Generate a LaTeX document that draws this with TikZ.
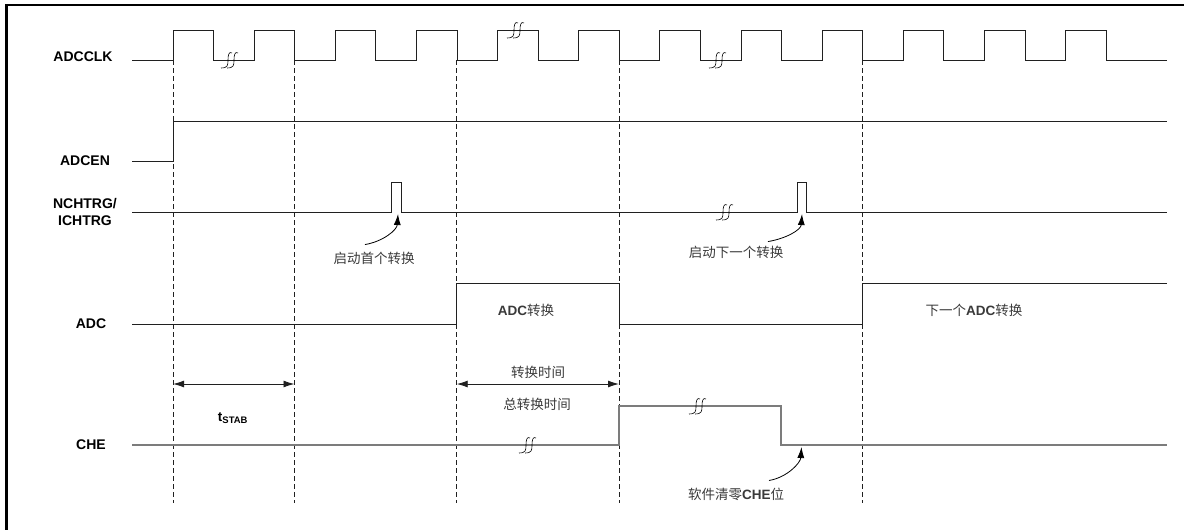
\documentclass[tikz,border=0pt]{standalone}
\usepackage{fontspec}
\setmainfont{Liberation Sans}
\newfontfamily\cjk{Noto Sans CJK SC}
\usepackage{tikz}
\usetikzlibrary{arrows.meta}
\definecolor{sigline}{HTML}{202020}
\definecolor{cheline}{HTML}{7C7C7C}
\definecolor{notetext}{HTML}{3A3A3A}

\tikzset{
  siglabel/.style={font=\fontsize{14}{17}\selectfont\bfseries, align=center, inner sep=1pt},
  note/.style={font=\fontsize{13.5}{16}\selectfont, text=notetext, inner sep=1pt},
  wave/.style={draw=sigline, line width=0.9pt},
  guide/.style={draw=sigline, line width=0.7pt, dash pattern=on 5pt off 3pt},
  span/.style={draw=sigline, line width=0.9pt, {Latex[length=11pt,width=7pt]}-{Latex[length=11pt,width=7pt]}},
  pointer/.style={draw=black, line width=0.8pt, -{Latex[length=11pt,width=7pt]}},
  brk/.pic={
    \foreach \d in {0,6}
      \draw[line width=0.6pt] (\d+3,-7) .. controls (\d,-9) and (\d-1,-5) .. (\d-1,0)
        .. controls (\d-1,5) and (\d-1,8) .. (\d-8,8);
  }
}

\begin{document}
\begin{tikzpicture}[x=1pt, y=-1pt]
  \useasboundingbox (0,0) rectangle (1186,530);

  % frame
  \draw[line width=2.5pt] (6.5,530) -- (6.5,5) -- (1184,5);

  % signal names
  \node[siglabel] (clk) at (83,57) {ADCCLK};
  \node[siglabel] (en) at (85,161) {ADCEN};
  \node[siglabel] (trg) at (85,212) {NCHTRG/\\ICHTRG};
  \node[siglabel] (adc) at (91,324) {ADC};
  \node[siglabel] (che) at (91,445) {CHE};

  % guides
  \foreach \x/\n in {173/t0, 294.5/t1, 456.7/t2, 619/t3, 862/t4} {
    \coordinate (\n) at (\x,60);
    \draw[guide] (\n) -- (\x,503);
  }

  % waveforms
  \draw[wave] (132,60) foreach \k in {0,...,11} {
      -- ({173+81.14*\k},60) -- ({173+81.14*\k},30)
      -- ({213.57+81.14*\k},30) -- ({213.57+81.14*\k},60) } -- (1167,60);
  \draw[wave] (132,161) -- (173,161) -- (173,121) -- (1167,121);
  \draw[wave] (132,212) -- (391,212) -- (391,182) -- (401,182) -- (401,212)
    -- (797,212) -- (797,182) -- (806,182) -- (806,212) -- (1167,212);
  \draw[wave] (132,324) -- (456.7,324) -- (456.7,283) -- (619,283) -- (619,324)
    -- (862,324) -- (862,283) -- (1167,283);
  \draw[wave, draw=cheline, line width=1.4pt] (132,445) -- (619,445) -- (619,406)
    -- (781,406) -- (781,445) -- (1167,445);

  % breaks
  \pic at (229,60) {brk};
  \pic at (515,30) {brk};
  \pic at (717,60) {brk};
  \pic at (724,212) {brk};
  \pic at (527,445) {brk};
  \pic at (697,406) {brk};

  % notes
  \node[note] (first) at (374,258) {\cjk 启动首个转换};
  \node[note] (next) at (736,252) {\cjk 启动下一个转换};
  \node[note] (conv) at (526,310) {\textbf{ADC}{\cjk 转换}};
  \node[note] (nconv) at (974,310) {{\cjk 下一个}\textbf{ADC}{\cjk 转换}};
  \node[note] (ctime) at (538,372) {\cjk 转换时间};
  \node[note] (ttime) at (537,404) {\cjk 总转换时间};
  \node[note, text=black] (stab) at (233,418) {\textbf{t}\textsubscript{\textbf{STAB}}};
  \node[note] (clr) at (736,494) {{\cjk 软件清零}\textbf{CHE}{\cjk 位}};

  % timing spans
  \coordinate (s0) at (173,384);
  \coordinate (s1) at (294.5,384);
  \coordinate (s2) at (456.7,384);
  \coordinate (s3) at (619,384);
  \draw[span] (s0) -- (s1);
  \draw[span] (s2) -- (s3);

  % pointers
  \coordinate (p1) at (398,214);
  \coordinate (p2) at (802,214);
  \coordinate (p3) at (801.5,447);
  \draw[pointer] ([xshift=-9pt,yshift=6pt]first.north) .. controls +(18,-3) and +(-1,16) .. (p1);
  \draw[pointer] ([xshift=32pt,yshift=3pt]next.north) .. controls +(18,-3) and +(-1,16) .. (p2);
  \draw[pointer] ([xshift=33pt,yshift=6pt]clr.north) .. controls +(18,-3) and +(-1,16) .. (p3);
\end{tikzpicture}
\end{document}
